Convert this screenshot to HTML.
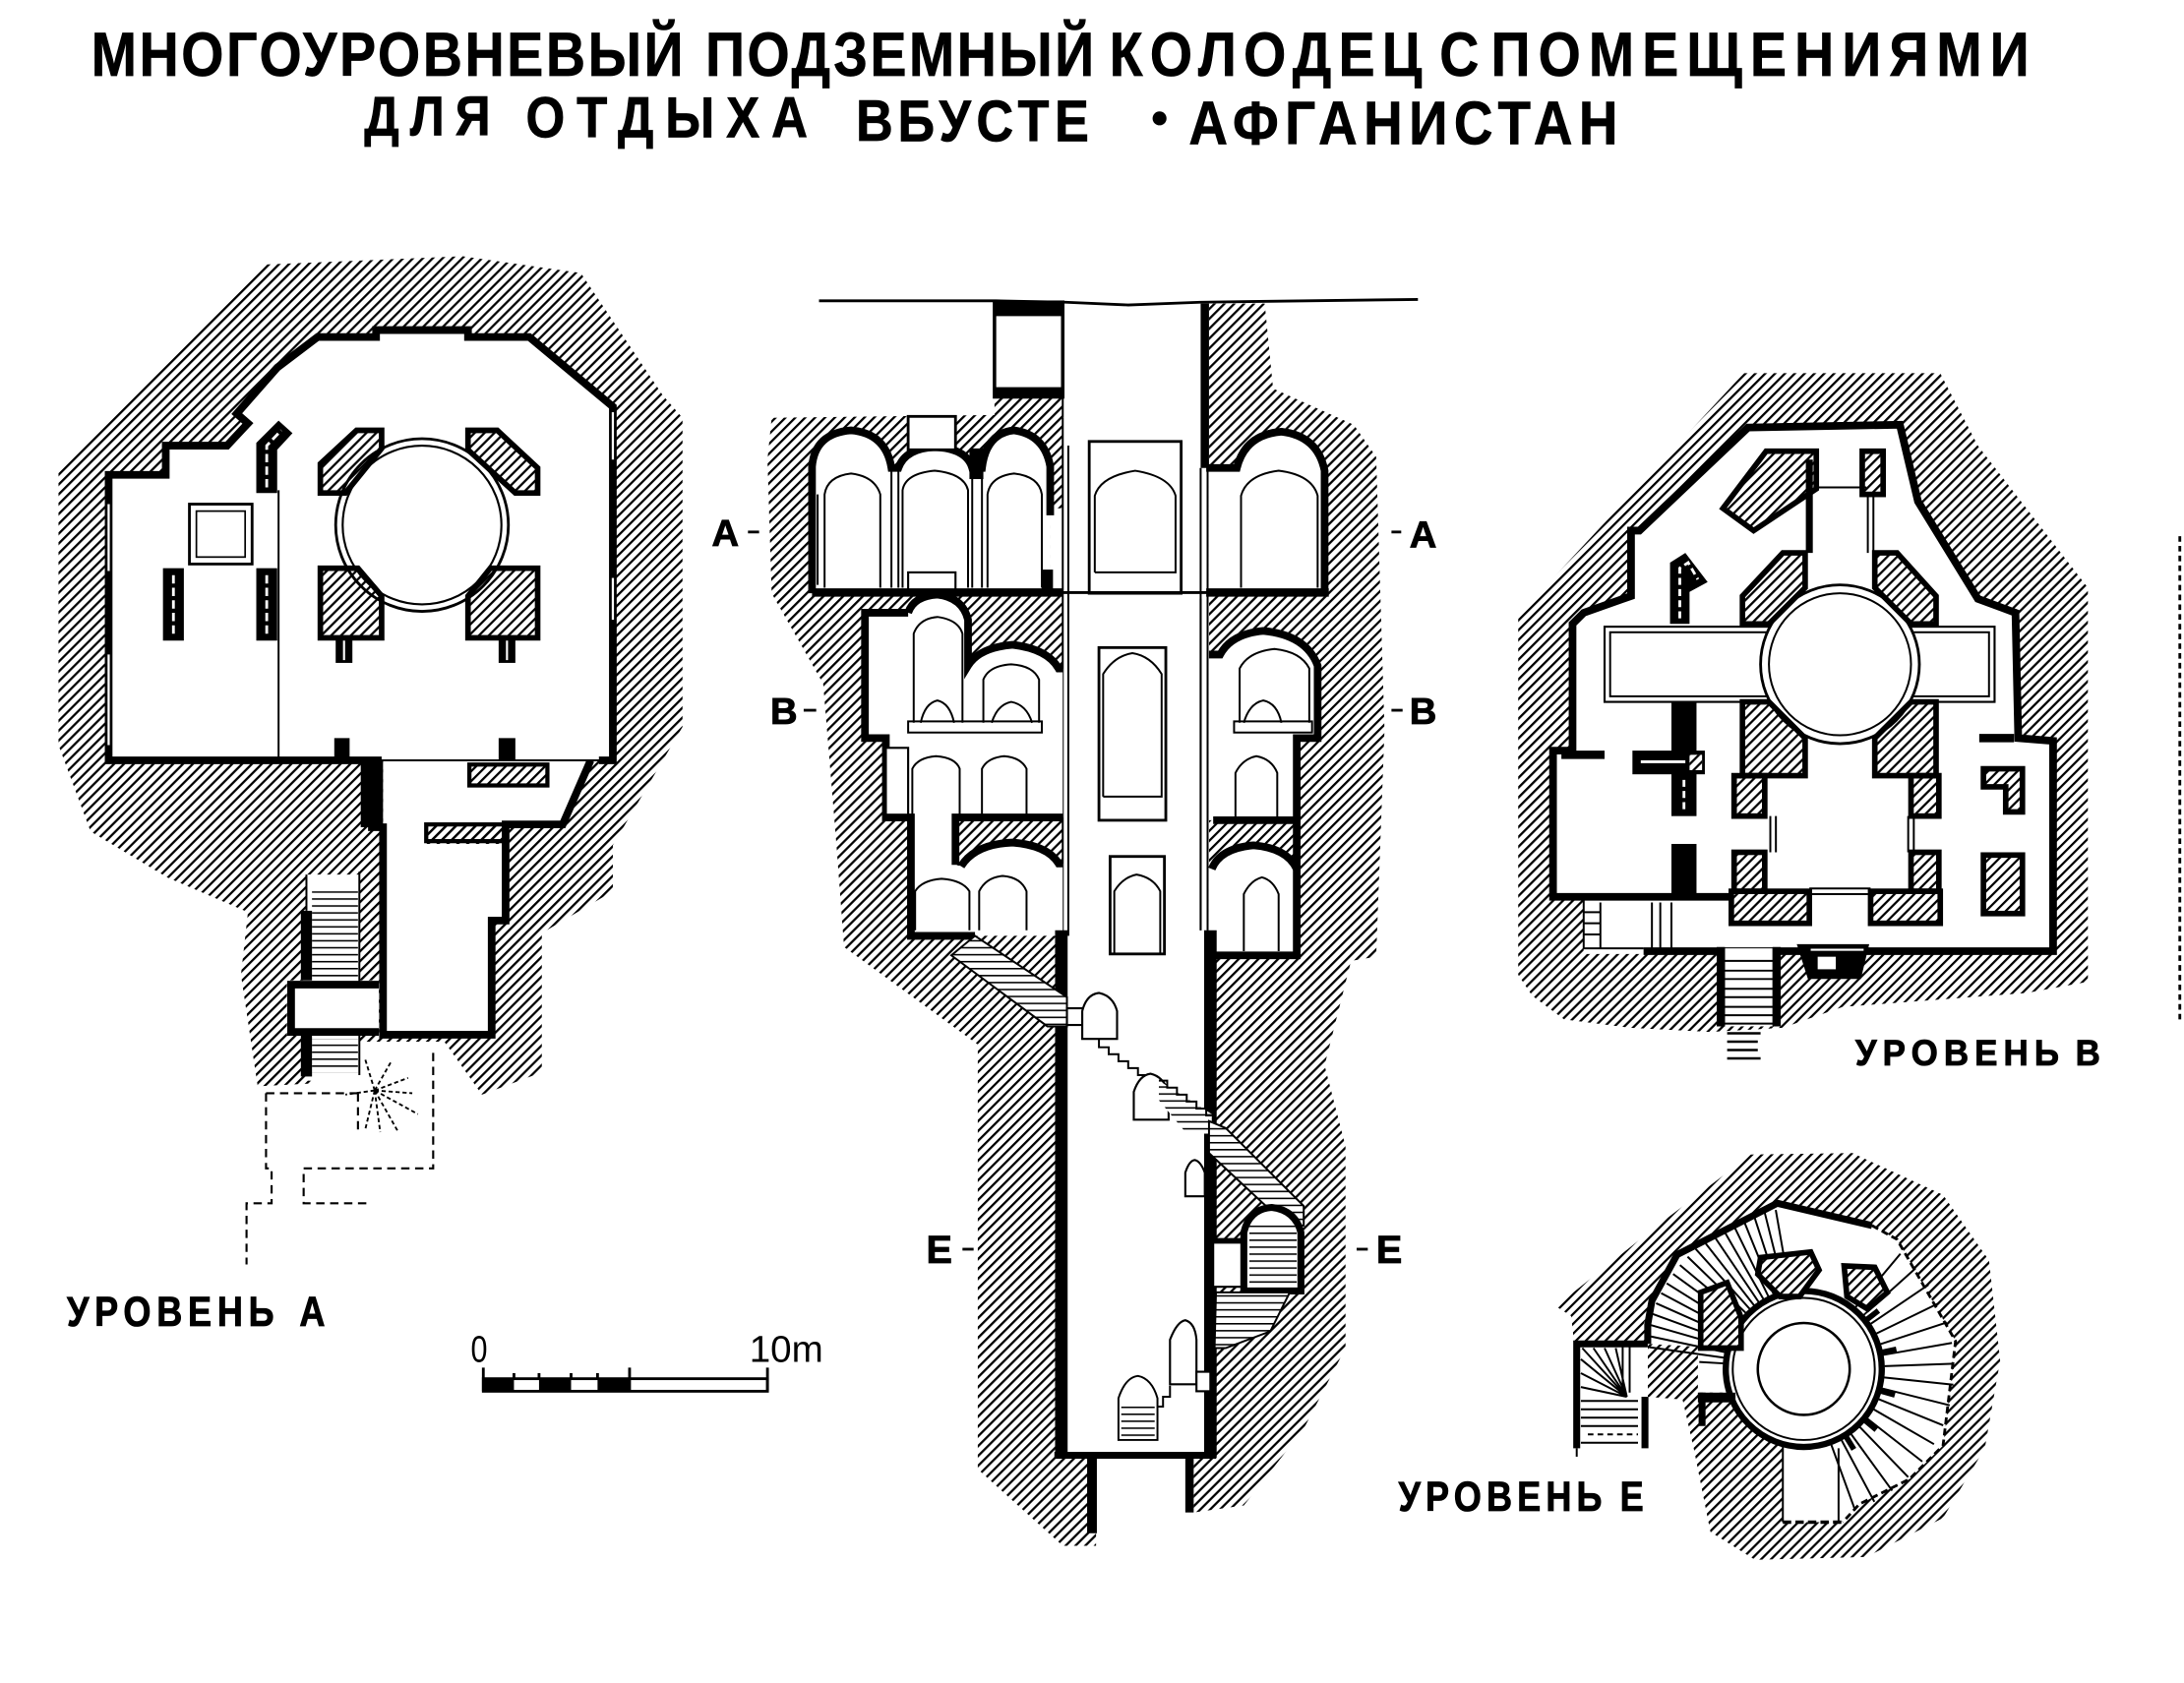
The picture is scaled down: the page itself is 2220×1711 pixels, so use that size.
<!DOCTYPE html>
<html><head><meta charset="utf-8">
<style>
html,body{margin:0;padding:0;background:#fff;overflow:hidden;}
svg{display:block;}
text{font-family:"Liberation Sans","DejaVu Sans",sans-serif;font-weight:bold;fill:#000;}
.ttl{stroke:#000;stroke-width:0.5;}
.lbl{stroke:#000;stroke-width:0.6;}
.w{fill:#fff;stroke:none;}
.k{fill:none;stroke:#000;stroke-width:5.5;stroke-linejoin:miter;}
.t{fill:none;stroke:#000;stroke-width:1.4;}
.tw{fill:#fff;stroke:#000;stroke-width:1.5;}
.hb{fill:url(#h);stroke:#000;stroke-width:4;stroke-linejoin:miter;}
.d{fill:none;stroke:#000;stroke-width:1.5;stroke-dasharray:6 4;}
.b{fill:#000;}
.hf{fill:url(#h);}
.st{fill:url(#st);}
.wl{stroke:#fff;stroke-width:1.6;fill:none;}
</style></head><body>
<svg width="2220" height="1711" viewBox="0 0 1568 1208.5" preserveAspectRatio="none" xmlns="http://www.w3.org/2000/svg">
<defs>
<pattern id="h" patternUnits="userSpaceOnUse" width="5" height="5" patternTransform="rotate(45)"><rect x="0" y="0" width="1.6" height="5" fill="#000"/></pattern>
<pattern id="st" patternUnits="userSpaceOnUse" width="10" height="5"><rect x="0" y="0" width="10" height="1.1" fill="#000"/></pattern>
</defs>
<rect width="1568" height="1208.5" fill="#fff"/>

<!-- TITLE -->
<text class="ttl" transform="translate(65.5,54.5) scale(0.88,1)" font-size="44.5" textLength="483" lengthAdjust="spacing">МНОГОУРОВНЕВЫЙ</text>
<text class="ttl" transform="translate(506.5,54.5) scale(0.88,1)" font-size="44.5" textLength="317" lengthAdjust="spacing">ПОДЗЕМНЫЙ</text>
<text class="ttl" transform="translate(796.5,54.5) scale(0.88,1)" font-size="44.5" textLength="255" lengthAdjust="spacing">КОЛОДЕЦ</text>
<text class="ttl" transform="translate(1033.5,54.5) scale(0.88,1)" font-size="44.5">С</text>
<text class="ttl" transform="translate(1070.5,54.5) scale(0.88,1)" font-size="44.5" textLength="439" lengthAdjust="spacing">ПОМЕЩЕНИЯМИ</text>
<text class="ttl" transform="translate(261.5,97) scale(0.88,1)" font-size="40" textLength="103" lengthAdjust="spacing">ДЛЯ</text>
<text class="ttl" transform="translate(377.5,98.5) scale(0.88,1)" font-size="41" textLength="230" lengthAdjust="spacing">ОТДЫХА</text>
<text class="ttl" transform="translate(614.5,101) scale(0.88,1)" font-size="42">В</text>
<text class="ttl" transform="translate(644.5,101.5) scale(0.88,1)" font-size="42" textLength="156" lengthAdjust="spacing">БУСТЕ</text>
<circle cx="832.5" cy="85" r="5"/>
<text class="ttl" transform="translate(853.5,103.5) scale(0.88,1)" font-size="44" textLength="350" lengthAdjust="spacing">АФГАНИСТАН</text>

<!-- ============ LEVEL A PLAN ============ -->
<polygon class="hf" points="189,190 332,184 417,196 476,284 490,300 490,522 440,607 440,640 389,670 389,770 346,786 319,748 224,748 224,778 185,780 173,700 178,655 120,630 65,597 42,535 42,336"/>
<polygon class="w" points="275,540 275,743 353,743 353,661 363,661 363,606 306,606 306,592 404,592 424,540"/>
<path class="k" d="M267,546 L267,594 L275,594 L275,743 L353,743 L353,661 L363,661 L363,592 L404,592 L424,546"/>
<rect class="b" x="259" y="546" width="16" height="48"/>
<rect class="hb" x="306" y="592" width="57" height="12" style="stroke-width:3"/>
<polygon class="w" points="78,341 119,341 119,320 163,320 178,304 170,297 199,264 228,242 270,242 270,237 336,237 336,242 380,242 440,292 440,546 78,546"/>
<polyline class="k" points="274,546 78,546 78,341 119,341 119,320 163,320 178,304 170,297 199,264 228,242 270,242 270,237 336,237 336,242 380,242 440,292 440,546 430,546"/>
<line class="t" x1="272" y1="546" x2="432" y2="546"/>
<line class="wl" x1="78" y1="362" x2="78" y2="410"/>
<line class="wl" x1="78" y1="470" x2="78" y2="535"/>
<line class="wl" x1="440" y1="296" x2="440" y2="330"/>
<line class="wl" x1="440" y1="415" x2="440" y2="445"/>
<line class="t" x1="200" y1="352" x2="200" y2="546"/>
<rect x="136" y="362" width="45" height="43" fill="none" stroke="#000" stroke-width="2"/>
<rect x="141" y="367" width="35" height="33" fill="none" stroke="#000" stroke-width="1.2"/>
<rect class="b" x="117" y="408" width="15" height="52"/>
<rect class="b" x="184" y="408" width="15" height="52"/>
<line x1="124.5" y1="413" x2="124.5" y2="455" stroke="#fff" stroke-width="2" stroke-dasharray="6 3"/>
<line x1="191.5" y1="413" x2="191.5" y2="455" stroke="#fff" stroke-width="2" stroke-dasharray="6 3"/>
<polygon class="b" points="184,354 184,318 200,302 210,311 199,323 199,354"/>
<polyline points="191.5,350 191.5,320 202,309" fill="none" stroke="#fff" stroke-width="2" stroke-dasharray="6 3"/>
<circle cx="303" cy="377" r="62" fill="#fff" stroke="#000" stroke-width="2"/>
<circle cx="303" cy="377" r="57" fill="#fff" stroke="#000" stroke-width="1.5"/>
<polygon class="hb" points="256,309 274,309 274,322 248,354 230,354 230,333"/>
<polygon class="hb" points="336,309 357,309 386,336 386,354 370,354 336,323"/>
<polygon class="hb" points="230,408 257,408 274,428 274,458 230,458"/>
<polygon class="hb" points="352,408 386,408 386,458 336,458 336,428"/>
<rect class="b" x="241" y="458" width="12" height="18"/>
<rect class="b" x="358" y="458" width="12" height="18"/>
<line x1="247" y1="460" x2="247" y2="474" stroke="#fff" stroke-width="1.5"/>
<line x1="364" y1="460" x2="364" y2="474" stroke="#fff" stroke-width="1.5"/>
<rect class="b" x="240" y="530" width="11" height="16"/>
<rect class="b" x="358" y="530" width="12" height="16"/>
<rect class="hb" x="337" y="549" width="56" height="15" style="stroke-width:3"/>
<!-- stairs A -->
<rect x="220" y="628" width="38" height="148" fill="#fff"/>
<rect x="206" y="704" width="66" height="39" fill="#fff"/>
<rect class="st" x="224" y="640" width="33" height="64"/>
<rect class="st" x="224" y="746" width="33" height="24"/>
<rect class="b" x="216" y="654" width="8" height="50"/>
<rect class="b" x="216" y="743" width="8" height="30"/>
<path class="k" d="M272,707 L209,707 L209,741 L272,741"/>
<path class="t" d="M220,628 L220,654 M258,626 L258,706 M258,741 L258,772"/>
<path fill="none" stroke="#000" stroke-width="1.3" stroke-dasharray="3 2" d="M269,783 L262,760 M269,783 L281,762 M269,783 L293,774 M269,783 L300,800 M269,783 L286,813 M269,783 L273,813 M269,783 L262,812 M269,783 L248,786 M269,783 L296,785"/>
<path class="d" d="M191,785 L191,839 L195,839 L195,864 L177,864 L177,908"/>
<path class="d" d="M191,785 L258,785"/>
<path class="d" d="M311,756 L311,839 L218,839 L218,864 L264,864"/>
<path class="d" d="M257,785 L257,812"/>
<text class="lbl" transform="translate(48,952) scale(0.85,1)" font-size="30" textLength="175" lengthAdjust="spacing">УРОВЕНЬ</text>
<text class="lbl" transform="translate(215,952) scale(0.85,1)" font-size="30">А</text>

<!-- scale bar -->
<rect x="347" y="990" width="204" height="9" fill="#fff" stroke="#000" stroke-width="2"/>
<rect class="b" x="347" y="990" width="22" height="9"/>
<rect class="b" x="387" y="990" width="23" height="9"/>
<rect class="b" x="429" y="990" width="23" height="9"/>
<path fill="none" stroke="#000" stroke-width="2" d="M347,982 L347,999 M369,986 L369,990 M387,986 L387,990 M410,986 L410,990 M429,986 L429,990 M452,982 L452,999 M551,982 L551,999"/>
<text x="338" y="978" font-size="27" style="font-weight:normal" transform="translate(338,0) scale(0.8,1) translate(-338,0)">0</text>
<text x="538" y="978" font-size="27" style="font-weight:normal" textLength="53" lengthAdjust="spacingAndGlyphs">10m</text>

<!-- ============ SECTION ============ -->
<polygon class="hf" points="554,300 714,298 714,285 763,285 763,1047 787,1047 787,1110 763,1110 702,1055 702,750 606,680 600,600 591,491 554,426 551,330"/>
<polygon class="hf" points="868,218 908,218 914,279 972,305 988,328 994,524 988,687 970,690 951,765 966,823 966,968 936,1026 893,1081 857,1086 857,1047 868,1047"/>
<rect x="763" y="218" width="105" height="827" fill="#fff"/>
<rect x="787" y="1045" width="68" height="65" fill="#fff"/>
<polyline fill="none" stroke="#000" stroke-width="2" points="588,216 715,216 765,217 810,219 862,217 1018,215"/>
<rect x="714" y="217" width="49" height="68" fill="#fff" stroke="#000" stroke-width="2.5"/>
<rect class="b" x="714" y="217" width="49" height="10"/>
<rect class="b" x="714" y="278" width="49" height="7"/>
<line x1="865" y1="218" x2="865" y2="336" stroke="#000" stroke-width="6"/>
<line class="t" x1="763" y1="217" x2="763" y2="300"/>

<!-- level A row -->
<path class="w" d="M583,426 L583,335 Q585,311 611,309 Q636,311 640,336 L645,336 Q650,322 671,321 Q694,322 698,336 L705,336 Q708,311 728,309 Q750,312 754,335 L754,426 Z"/>
<rect class="w" x="754" y="365" width="9" height="61"/>
<path class="k" d="M583,426 L583,335 Q585,311 611,309 Q636,311 640,336 L645,336 Q650,322 671,321 Q694,322 698,336 L705,336 Q708,311 728,309 Q750,312 754,335 L754,370"/>
<rect x="652" y="299" width="34" height="24" fill="#fff" stroke="#000" stroke-width="2"/>
<path class="t" d="M592,422 L592,355 Q594,342 611,340 Q628,342 632,355 L632,422 M648,422 L648,352 Q650,340 671,338 Q692,340 695,352 L695,422 M709,422 L709,355 Q711,342 728,340 Q746,342 748,355 L748,422 M640,338 L640,422 M645,338 L645,422 M698,338 L698,422 M705,338 L705,422 M587,355 L587,420"/>
<rect class="b" x="696" y="322" width="10" height="22"/>
<rect class="b" x="748" y="409" width="8" height="17"/>
<rect class="tw" x="652" y="411" width="34" height="14"/>
<rect class="tw" x="782" y="317" width="66" height="109" style="stroke-width:2"/>
<path class="t" d="M786,411 L786,356 Q790,342 815,338 Q840,342 844,356 L844,411 L786,411"/>
<path class="w" d="M868,426 L868,336 L888,336 Q894,312 920,310 Q946,313 951,338 L951,426 Z"/>
<path class="k" d="M866,336 L888,336 Q894,312 920,310 Q946,313 951,338 L951,426"/>
<path class="t" d="M891,422 L891,356 Q895,341 918,338 Q942,341 946,356 L946,422"/>
<line x1="583" y1="425.5" x2="763" y2="425.5" stroke="#000" stroke-width="6"/>
<line x1="866" y1="425.5" x2="954" y2="425.5" stroke="#000" stroke-width="6"/>
<line x1="763" y1="425.5" x2="868" y2="425.5" stroke="#000" stroke-width="2"/>
<path class="t" d="M763,300 L763,672 M767,320 L767,672 M862,336 L862,668 M867,336 L867,668"/>

<!-- level B row left -->
<path class="w" d="M621,440 L652,440 Q656,428 673,427 Q691,429 695,445 L695,478 Q703,465 727,463 Q752,466 760,480 L763,480 L763,587 L686,587 L686,621 L690,622 Q700,606 727,605 Q752,607 760,620 L763,620 L763,672 L654,672 L654,587 L636,587 L636,530 L621,530 Z"/>
<path class="k" d="M652,440 L621,440 L621,530 L636,530 L636,587 L654,587 L654,672 L700,672"/>
<path class="k" d="M652,440 Q656,428 673,427 Q691,429 695,445 L695,478 Q703,465 727,463 Q752,466 760,480 L763,480"/>
<path class="k" d="M763,587 L686,587 L686,621 M690,622 Q700,606 727,605 Q752,607 760,620 L763,620"/>
<path class="t" d="M656,519 L656,455 Q660,444 673,443 Q688,445 691,455 L691,519 M661,519 Q664,505 673,503 Q682,505 685,519 M706,519 L706,488 Q710,478 726,477 Q742,478 746,488 L746,519 M712,519 Q716,506 726,504 Q737,506 741,519"/>
<rect class="t" x="652" y="518" width="96" height="8"/>
<rect class="tw" x="636" y="537" width="16" height="48"/>
<path class="t" d="M655,587 L655,552 Q659,544 672,543 Q686,544 689,552 L689,587 M705,587 L705,552 Q709,544 721,543 Q733,544 737,552 L737,587"/>
<path class="t" d="M657,668 L657,640 Q662,632 676,631 Q691,632 696,640 L696,668 M703,668 L703,640 Q708,630 720,629 Q733,630 737,640 L737,668"/>
<rect class="tw" x="789" y="465" width="48" height="124" style="stroke-width:2"/>
<path class="t" d="M792,572 L792,484 Q800,471 813,469 Q826,471 834,484 L834,572 L792,572"/>
<rect class="tw" x="797" y="615" width="39" height="70" style="stroke-width:2"/>
<path class="t" d="M800,685 L800,640 Q806,630 816,628 Q828,630 833,640 L833,685"/>
<path class="w" d="M868,470 L876,470 Q884,455 907,453 Q938,456 946,478 L946,530 L931,530 L931,589 L868,589 Z"/>
<path class="w" d="M868,624 Q876,609 900,607 Q924,609 931,624 L931,686 L868,686 Z"/>
<path class="k" d="M868,470 L876,470 Q884,455 907,453 Q938,456 946,478 L946,530 L931,530 L931,686 L868,686"/>
<path class="k" d="M871,589 L931,589 M870,624 Q876,609 900,607 Q924,609 931,624"/>
<path class="t" d="M890,519 L890,480 Q896,468 915,466 Q934,468 940,480 L940,519 M893,519 Q897,505 907,503 Q917,505 920,519 M887,587 L887,555 Q892,545 902,543 Q913,545 917,555 L917,587 M893,683 L893,642 Q898,632 906,630 Q914,632 918,642 L918,683"/>
<rect class="t" x="886" y="518" width="56" height="8"/>
<path class="t" d="M862,430 L862,668 M867,430 L867,668"/>

<!-- lower shaft walls -->
<line x1="762" y1="668" x2="762" y2="1047" stroke="#000" stroke-width="9"/>
<line x1="869" y1="668" x2="869" y2="1047" stroke="#000" stroke-width="9"/>
<line x1="757" y1="1045" x2="873" y2="1045" stroke="#000" stroke-width="5"/>
<line x1="784" y1="1045" x2="784" y2="1101" stroke="#000" stroke-width="7"/>
<line x1="854" y1="1045" x2="854" y2="1086" stroke="#000" stroke-width="6"/>

<!-- stairs in section -->
<polygon class="w" points="700,672 766,716 766,737 752,737 683,686"/>
<polygon class="st" points="700,672 766,716 766,737 752,737 683,686"/>
<polygon class="t" points="700,672 766,716 766,737 752,737 683,686"/>
<rect class="tw" x="766" y="724" width="12" height="12"/>
<path class="tw" d="M777,746 L777,726 Q780,714 789,713 Q799,715 802,726 L802,746 Z"/>
<polyline class="t" points="789,746 789,752 796,752 796,757 803,757 803,762 810,762 810,767 817,767 817,772 824,772 824,777 832,777"/>
<path class="tw" d="M814,804 L814,784 Q818,772 826,771 Q835,773 839,784 L839,804 Z"/>
<polygon class="w" points="832,776 870,800 870,814 852,814 832,790"/>
<polygon class="st" points="832,776 870,800 870,814 852,814 832,790"/>
<polyline class="t" points="832,776 838,776 838,781 845,781 845,786 852,786 852,791 859,791 859,796 866,796 866,801 870,801"/>
<path class="tw" d="M851,859 L851,842 Q854,833 858,833 Q862,834 865,842 L865,859 Z"/>
<polygon class="w" points="868,805 880,810 936,866 936,880 924,880 868,828"/>
<polygon class="st" points="868,805 880,810 936,866 936,880 924,880 868,828"/>
<polygon class="t" points="868,805 880,810 936,866 936,880 924,880 868,828"/>
<rect class="tw" x="871" y="892" width="22" height="32"/>
<line x1="868" y1="891" x2="893" y2="891" stroke="#000" stroke-width="4"/>
<path class="w" d="M893,927 L893,885 Q897,868 913,867 Q930,869 934,885 L934,927 Z"/>
<rect class="st" x="897" y="880" width="34" height="44"/>
<path class="k" d="M893,927 L893,885 Q897,868 913,867 Q930,869 934,885 L934,927 Z" style="stroke-width:5"/>
<polygon class="w" points="873,928 926,928 912,956 880,968 872,968"/>
<polygon class="st" points="873,928 926,928 912,956 880,968 872,968"/>
<polygon class="t" points="873,928 926,928 912,956 880,968 872,968"/>
<path class="tw" d="M840,994 L840,962 Q845,949 851,948 Q858,950 859,962 L859,994 Z"/>
<rect class="tw" x="859" y="985" width="10" height="14"/>
<path class="w" d="M803,1034 L803,1004 Q808,989 817,988 Q827,990 831,1004 L831,1034 Z"/>
<rect class="st" x="805" y="1010" width="24" height="23"/>
<path class="t" d="M803,1034 L803,1004 Q808,989 817,988 Q827,990 831,1004 L831,1034 Z"/>
<polyline class="t" points="831,1010 835,1010 835,1003 840,1003 840,995"/>

<!-- section labels -->
<text class="lbl" x="511" y="392" font-size="27">A</text>
<line x1="537" y1="382" x2="545" y2="382" stroke="#000" stroke-width="2"/>
<line x1="999" y1="382" x2="1006" y2="382" stroke="#000" stroke-width="2"/>
<text class="lbl" x="1012" y="393" font-size="27">A</text>
<text class="lbl" x="553" y="520" font-size="27">B</text>
<line x1="577" y1="510" x2="586" y2="510" stroke="#000" stroke-width="2"/>
<line x1="999" y1="510" x2="1007" y2="510" stroke="#000" stroke-width="2"/>
<text class="lbl" x="1012" y="520" font-size="27">B</text>
<text class="lbl" x="665" y="907" font-size="28">E</text>
<line x1="691" y1="897" x2="699" y2="897" stroke="#000" stroke-width="2"/>
<line x1="974" y1="897" x2="982" y2="897" stroke="#000" stroke-width="2"/>
<text class="lbl" x="988" y="907" font-size="28">E</text>

<!-- ============ LEVEL B PLAN ============ -->
<polygon class="hf" points="1252,268 1393,268 1420,320 1499,422 1499,705 1455,713 1323,723 1280,738 1228,741 1170,738 1123,732 1100,715 1090,700 1090,442"/>
<polygon class="w" points="1255,307 1364,305 1377,360 1420,430 1447,440 1449,530 1474,532 1474,685 1137,685 1137,644 1115,644 1115,539 1129,539 1129,448 1137,440 1171,428 1171,381 1177,381"/>
<path class="k" d="M1180,683 L1474,683 L1474,532 L1449,530 L1447,440 L1420,430 L1377,360 L1364,305 L1255,307 L1177,381 L1171,381 L1171,428 L1137,440 L1129,448 L1129,539 L1115,539 L1115,644 L1243,644"/>
<path class="t" d="M1137,646 L1137,681 L1180,681 M1137,655 L1149,655 M1137,663 L1149,663 M1137,671 L1149,671 M1149,648 L1149,681 M1186,648 L1186,681 M1192,648 L1192,681 M1200,648 L1200,681"/>
<rect class="tw" x="1152" y="450" width="280" height="54"/>
<rect class="t" x="1156" y="454" width="272" height="46"/>
<line x1="1299" y1="330" x2="1299" y2="397" stroke="#000" stroke-width="5"/>
<path class="t" d="M1341,355 L1341,397 M1345,355 L1345,397 M1302,350 L1340,350"/>
<circle cx="1321" cy="477" r="57" fill="#fff" stroke="#000" stroke-width="2"/>
<circle cx="1321" cy="477" r="51" class="t"/>
<polygon class="hb" points="1280,397 1296,397 1296,422 1270,448 1251,448 1251,428"/>
<polygon class="hb" points="1346,397 1362,397 1390,428 1390,448 1372,448 1346,422"/>
<polygon class="hb" points="1251,504 1270,504 1296,530 1296,557 1251,557"/>
<polygon class="hb" points="1372,504 1390,504 1390,557 1346,557 1346,530"/>
<rect class="hb" x="1245" y="557" width="22" height="29"/>
<rect class="hb" x="1372" y="557" width="20" height="29"/>
<rect class="hb" x="1245" y="612" width="22" height="28"/>
<rect class="hb" x="1372" y="612" width="20" height="28"/>
<rect class="hb" x="1243" y="640" width="56" height="23"/>
<rect class="hb" x="1343" y="640" width="50" height="23"/>
<path class="t" d="M1271,586 L1271,612 M1275,586 L1275,612 M1370,586 L1370,612 M1374,586 L1374,612 M1299,638 L1343,638 M1299,642 L1343,642"/>
<polygon class="hb" points="1268,324 1304,324 1304,351 1259,381 1237,365"/>
<rect class="hb" x="1337" y="324" width="15" height="31"/>
<polygon class="b" points="1199,404 1210,397 1226,418 1213,425 1213,448 1199,448"/>
<polyline points="1206,444 1206,408 1212,404 1219,416" fill="none" stroke="#fff" stroke-width="2" stroke-dasharray="5 3"/>
<rect class="b" x="1200" y="504" width="18" height="82"/>
<line x1="1209" y1="560" x2="1209" y2="582" stroke="#fff" stroke-width="2" stroke-dasharray="5 3"/>
<rect class="b" x="1172" y="539" width="52" height="17"/>
<line x1="1178" y1="547" x2="1210" y2="547" stroke="#fff" stroke-width="2"/>
<rect x="1213" y="542" width="9" height="11" fill="#fff"/>
<rect class="hf" x="1213" y="542" width="9" height="11"/>
<rect class="b" x="1200" y="606" width="18" height="37"/>
<rect class="b" x="1421" y="527" width="25" height="6"/>
<rect class="b" x="1121" y="539" width="31" height="6"/>
<polygon class="hb" points="1424,552 1452,552 1452,583 1440,583 1440,565 1424,565"/>
<rect class="hb" x="1424" y="614" width="28" height="42"/>
<rect x="1233" y="681" width="45" height="56" fill="#fff"/>
<path class="t" d="M1238,690 L1273,690 M1238,697 L1273,697 M1238,703 L1273,703 M1238,710 L1273,710 M1238,716 L1273,716 M1238,723 L1273,723 M1238,729 L1273,729 M1238,735 L1273,735"/>
<line x1="1235.5" y1="680" x2="1235.5" y2="737" stroke="#000" stroke-width="6"/>
<line x1="1275.5" y1="680" x2="1275.5" y2="737" stroke="#000" stroke-width="6"/>
<path fill="none" stroke="#000" stroke-width="1.8" d="M1240,742 L1264,742 M1240,748 L1262,748 M1240,754 L1262,754 M1240,760 L1264,760"/>
<polygon class="b" points="1290,678 1342,678 1336,703 1298,703"/>
<rect x="1305" y="687" width="13" height="9" fill="#fff"/>
<line x1="1300" y1="682" x2="1338" y2="682" stroke="#fff" stroke-width="1.5"/>
<text class="lbl" transform="translate(1332,765) scale(0.95,1)" font-size="26" textLength="154" lengthAdjust="spacing">УРОВЕНЬ</text>
<text class="lbl" transform="translate(1490,765) scale(0.95,1)" font-size="26">В</text>
<line x1="1565" y1="385" x2="1565" y2="735" stroke="#000" stroke-width="2" stroke-dasharray="4 3"/>

<!-- ============ LEVEL E PLAN ============ -->
<polygon class="hf" points="1117,938 1190,880 1257,829 1330,828 1395,858 1428,905 1436,977 1425,1040 1395,1090 1340,1118 1260,1120 1228,1100 1216,1040 1208,1005 1183,1003 1183,963 1130,963 1128,945"/>
<polygon class="w" points="1180,951 1186,934 1204,901 1276,864 1344,880 1362,890 1404,963 1395,1038 1371,1062 1335,1080 1323,1093 1280,1093 1280,1038 1246,1010 1246,1000 1219,1000 1219,967 1183,965"/>
<path class="t" d="M1284.9,925.9 L1274.9,868.8 M1281,926.7 L1266.9,870.4 M1277.1,927.8 L1259.2,872.7 M1273.3,929.2 L1251.5,875.4 M1269.6,930.9 L1244.1,878.7 M1266,932.8 L1237,882.5 M1262.6,934.9 L1230.1,886.8 M1259.3,937.3 L1223.6,891.6 M1256.2,939.9 L1217.4,896.8 M1253.3,942.7 L1211.6,902.4 M1250.6,945.7 L1206.1,908.4 M1248.1,948.9 L1201.2,914.8 M1245.8,952.3 L1196.6,921.5 M1243.8,955.8 L1192.6,928.5 M1242,959.4 L1189,935.8 M1240.5,963.2 L1186,943.3 M1239.2,967 L1183.5,951 M1238.3,970.9 L1185.4,959.7 M1237.6,974.9 L1184.1,967.4 M1237.1,979 L1220,978"/>
<path class="t" d="M1332.3,938.6 L1364.4,900.3 M1338.1,944.2 L1375.3,910.7 M1343.1,950.6 L1384.5,922.6 M1347.1,957.6 L1392.1,935.7 M1350.2,965.1 L1397.7,949.6 M1352.1,972.9 L1401.4,964.3 M1353,981 L1402.9,979.2 M1352.7,989.1 L1402.4,994.3 M1351.3,997 L1399.8,1009.1 M1348.8,1004.7 L1395.1,1023.5 M1345.2,1012 L1388.5,1037 M1340.7,1018.7 L1380.1,1049.5 M1335.3,1024.7 L1370,1060.7 M1329.1,1029.9 L1358.5,1070.4 M1322.2,1034.2 L1345.7,1078.4 M1314.8,1037.5 L1331.9,1084.5"/>
<path fill="none" stroke="#000" stroke-width="4" d="M1339.1,948.5 L1348.6,941.1 M1349.8,971.4 L1361.5,968.9 M1348.8,998.4 L1360.4,1001.7 M1337.9,1019 L1347.1,1026.7 M1324.7,1030.5 L1331,1040.7"/>
<polyline fill="none" stroke="#000" stroke-width="2" stroke-dasharray="5 3" points="1344,880 1362,890 1404,963 1395,1038 1371,1062 1335,1080 1323,1093"/>
<path class="t" d="M1280,1038 L1280,1093 M1320,1040 L1320,1093"/>
<line x1="1280" y1="1093" x2="1323" y2="1093" stroke="#000" stroke-width="2.5" stroke-dasharray="6 3"/>
<polyline class="k" style="stroke-width:5" points="1183,965 1183,951 1186,934 1204,901 1276,864 1344,880"/>
<circle cx="1295" cy="983" r="56" fill="#fff" stroke="#000" stroke-width="4.5"/>
<circle cx="1295" cy="983" r="51" class="t"/>
<circle cx="1295" cy="983" r="33" fill="none" stroke="#000" stroke-width="1.8"/>
<polygon class="w" points="1264,903 1300,899 1306,912 1292,931 1278,931 1262,915"/>
<polygon class="hb" points="1264,903 1300,899 1306,912 1292,931 1278,931 1262,915"/>
<polygon class="w" points="1324,909 1346,910 1355,928 1341,940 1326,931"/>
<polygon class="hb" points="1324,909 1346,910 1355,928 1341,940 1326,931"/>
<polygon class="w" points="1221,928 1240,921 1250,946 1250,968 1221,968"/>
<polygon class="hb" points="1221,928 1240,921 1250,946 1250,968 1221,968"/>
<rect class="b" x="1219" y="1000" width="27" height="7"/>
<line x1="1222" y1="1000" x2="1222" y2="1024" stroke="#000" stroke-width="5"/>
<rect x="1132" y="965" width="51" height="75" fill="#fff"/>
<polyline class="k" style="stroke-width:5" points="1132,1040 1132,965 1183,965"/>
<line x1="1181" y1="1003" x2="1181" y2="1040" stroke="#000" stroke-width="5"/>
<line class="t" x1="1132" y1="1040" x2="1132" y2="1046"/>
<path class="t" d="M1168,1003 L1136,968 M1168,1003 L1144,968 M1168,1003 L1152,968 M1168,1003 L1160,968 M1168,1003 L1135,976 M1168,1003 L1135,986 M1168,1003 L1135,996 M1165,967 L1165,1000 M1170,967 L1170,1000 M1135,1006 L1176,1006 M1135,1012 L1176,1012 M1135,1018 L1176,1018 M1135,1024 L1176,1024 M1135,1036 L1176,1036"/>
<line x1="1140" y1="1030" x2="1176" y2="1030" stroke="#000" stroke-width="1.4" stroke-dasharray="4 3"/>
<text class="lbl" transform="translate(1004,1085) scale(0.85,1)" font-size="30" textLength="172" lengthAdjust="spacing">УРОВЕНЬ</text>
<text class="lbl" transform="translate(1163,1085) scale(0.85,1)" font-size="30">Е</text>
</svg>
</body></html>
